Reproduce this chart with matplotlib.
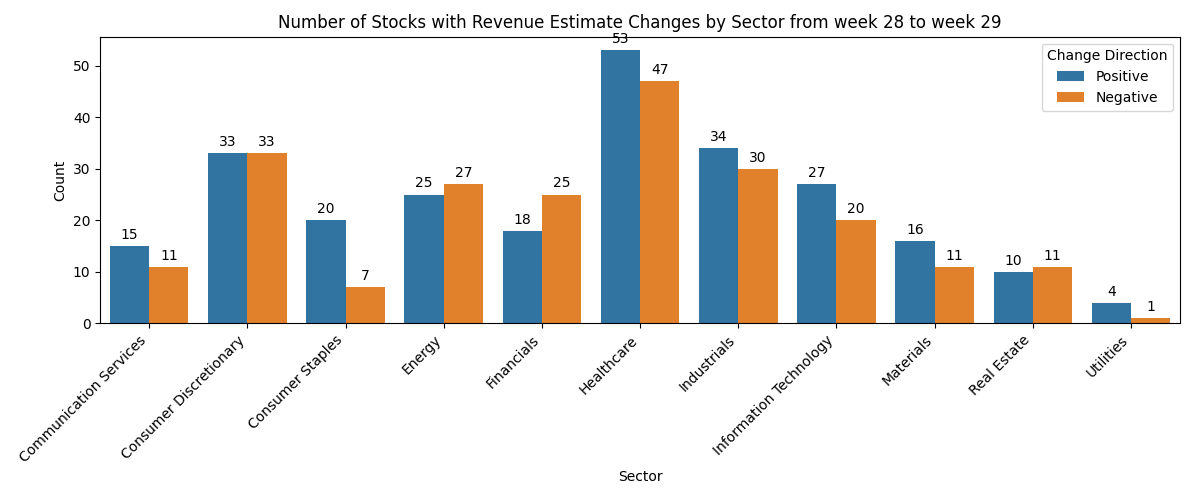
import matplotlib
matplotlib.use("Agg")
import matplotlib.pyplot as plt
import numpy as np

sectors = ["Communication Services", "Consumer Discretionary", "Consumer Staples", "Energy",
           "Financials", "Healthcare", "Industrials", "Information Technology",
           "Materials", "Real Estate", "Utilities"]
positive = [15, 33, 20, 25, 18, 53, 34, 27, 16, 10, 4]
negative = [11, 33, 7, 27, 25, 47, 30, 20, 11, 11, 1]

fig, ax = plt.subplots(figsize=(11.92, 4.9), dpi=100)
x = np.arange(len(sectors))
w = 0.4
b1 = ax.bar(x - w / 2, positive, w, color="#3274a1", label="Positive")
b2 = ax.bar(x + w / 2, negative, w, color="#e1812c", label="Negative")
for bars in (b1, b2):
    for r in bars:
        ax.annotate(f"{int(r.get_height())}", (r.get_x() + r.get_width() / 2, r.get_height()),
                    xytext=(0, 3), textcoords="offset points", ha="center", va="bottom", fontsize=10)
ax.set_xticks(x)
ax.set_xticklabels(sectors, rotation=45, ha="right")
ax.set_xlim(-0.5, len(sectors) - 0.5)
ax.set_xlabel("Sector")
ax.set_ylabel("Count")
ax.set_title("Number of Stocks with Revenue Estimate Changes by Sector from week 28 to week 29")
ax.legend(title="Change Direction", loc="upper right")
fig.tight_layout()
fig.subplots_adjust(left=0.084, bottom=0.34, right=0.99, top=0.925)
fig.savefig("out.png", dpi=100)
